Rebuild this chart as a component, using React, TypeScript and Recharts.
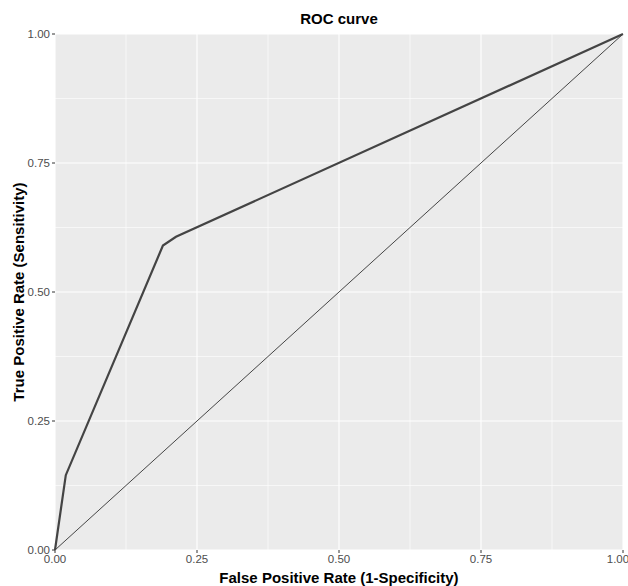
import { LineChart, Line, XAxis, YAxis, CartesianGrid, ReferenceLine } from 'recharts'

const rocFpr = [0, 0.019, 0.19, 0.213, 1]
const rocTpr = [0, 0.145, 0.59, 0.607, 1]
const diagFpr = [0, 1]
const diagTpr = [0, 1]
const majorTicks = [0, 0.25, 0.5, 0.75, 1]
const minorTicks = [0.125, 0.375, 0.625, 0.875]

const rocData = rocFpr.map((x, i) => ({ x, y: rocTpr[i] }))
const diagData = diagFpr.map((x, i) => ({ x, y: diagTpr[i] }))

const fmt = (v: number) => v.toFixed(2)
const font = '"Liberation Sans", Arial, sans-serif'

export default function App() {
  return (
    <div style={{ position: 'absolute', left: 0, top: 0, width: 628, height: 586, background: '#fff', fontFamily: font }}>
      <div style={{ position: 'absolute', left: 55, width: 568, top: 10, textAlign: 'center', fontWeight: 'bold', fontSize: 15, color: '#000' }}>
        ROC curve
      </div>
      <LineChart width={628} height={586} margin={{ top: 34, right: 5, left: 0, bottom: 0 }}>
        <CartesianGrid fill="#EBEBEB" stroke="#FFFFFF" strokeWidth={1.1} />
        {minorTicks.map((t) => (
          <ReferenceLine key={`mx-${t}`} x={t} stroke="#FFFFFF" strokeWidth={0.6} />
        ))}
        {minorTicks.map((t) => (
          <ReferenceLine key={`my-${t}`} y={t} stroke="#FFFFFF" strokeWidth={0.6} />
        ))}
        <XAxis
          type="number"
          dataKey="x"
          domain={[0, 1]}
          ticks={majorTicks}
          tickFormatter={fmt}
          height={36}
          axisLine={false}
          tickLine={{ stroke: '#333333' }}
          tickSize={3}
          tick={{ fill: '#4D4D4D', fontSize: 11.5, fontFamily: font }}
          label={{ value: 'False Positive Rate (1-Specificity)', position: 'insideBottom', offset: 3, fill: '#000', fontSize: 15, fontWeight: 'bold', fontFamily: font }}
        />
        <YAxis
          type="number"
          dataKey="y"
          domain={[0, 1]}
          ticks={majorTicks}
          tickFormatter={fmt}
          width={55}
          axisLine={false}
          tickLine={{ stroke: '#333333' }}
          tickSize={3}
          tick={{ fill: '#4D4D4D', fontSize: 11.5, fontFamily: font }}
          label={{ value: 'True Positive Rate (Sensitivity)', angle: -90, position: 'insideLeft', offset: 19, style: { textAnchor: 'middle' }, fill: '#000', fontSize: 15, fontWeight: 'bold', fontFamily: font }}
        />
        <Line data={diagData} dataKey="y" stroke="#1A1A1A" strokeWidth={0.8} dot={false} isAnimationActive={false} />
        <Line data={rocData} dataKey="y" stroke="#444444" strokeWidth={2.2} dot={false} isAnimationActive={false} />
      </LineChart>
    </div>
  )
}
